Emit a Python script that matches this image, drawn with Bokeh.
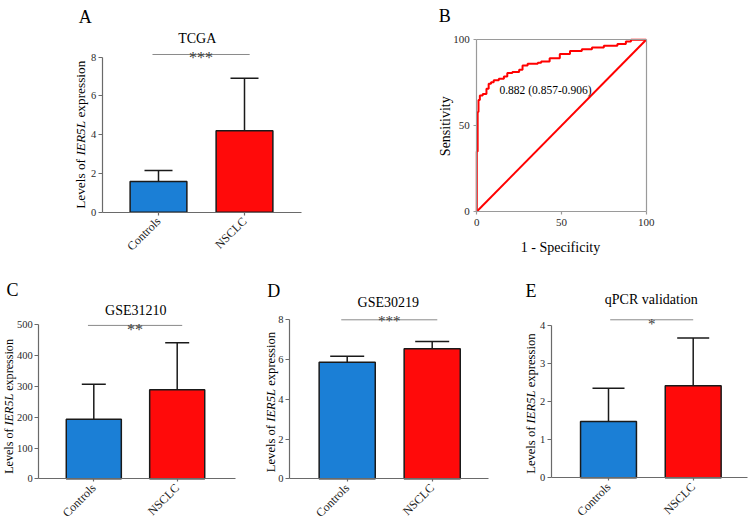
import math
from bokeh.plotting import figure
from bokeh.models import (Range1d, FixedTicker, Label, Whisker, TeeHead, ColumnDataSource,
                          LinearAxis)
from bokeh.layouts import row, column
from bokeh.embed import file_html
from bokeh.resources import INLINE
from bokeh.core.properties import value

FONT = "Liberation Serif"
AXIS = "#6a6a6a"
EDGE = "#1a1a1a"
BLUE = "#1b7fd6"
RED = "#ff0a0a"

# ---------------- data ----------------
categories = ["Controls", "NSCLC"]
bar_colors = [BLUE, RED]

tcga_mean = [1.58, 4.20]
tcga_sd = [0.57, 2.72]
gse31210_mean = [193, 289]
gse31210_sd = [114, 153]
gse30219_mean = [5.87, 6.54]
gse30219_sd = [0.29, 0.37]
qpcr_mean = [1.48, 2.42]
qpcr_sd = [0.87, 1.25]

roc_fpr = [0, 0, 0.5, 1, 1.8, 3.5, 5.7, 7, 8.4, 10, 13, 16, 18, 21, 25, 27, 30, 36, 38,
           43, 49, 55, 62, 68, 75, 83, 88, 91, 100]
roc_tpr = [0, 35, 58, 65, 67.5, 68.5, 71.5, 74.4, 75.3, 76.5, 77.3, 78.6, 80.6, 81.2, 82.5,
           85, 86, 86.6, 87.4, 89.3, 91.8, 93.5, 94.5, 95.5, 96.5, 97.5, 99, 100, 100]
roc_ref = [0, 100]
roc_auc_text = "0.882 (0.857-0.906)"
roc_ticks = [0, 50, 100]

# rotated y label pieces: text, style, advance in em up to the next piece (Times metrics)
ylabel_parts = [("Levels of", "normal", 3.999), ("IER5L", "italic", 2.861),
                ("expression", "normal", 4.277)]


def base_fig(box, x0px, ux, y0px, uy):
    """Figure whose frame fills the whole canvas; data x=0 at pixel x0px, y=0 at y0px."""
    fx0, fy0, fx1, fy1 = box
    xr = Range1d((fx0 - x0px) / ux, (fx1 - x0px) / ux)
    yr = Range1d((y0px - fy1) / uy, (y0px - fy0) / uy)
    p = figure(width=fx1 - fx0, height=fy1 - fy0, x_range=xr, y_range=yr,
               x_axis_type=None, y_axis_type=None, min_border=0,
               toolbar_location=None, output_backend="svg", title=None,
               background_fill_color="white", border_fill_color="white")
    p.grid.visible = False
    p.outline_line_color = None
    return p


def lab(p, box, X, Y, text, size, angle=0.0, align="left", baseline="alphabetic",
        style="normal", color="black"):
    p.add_layout(Label(x=X - box[0], y=box[3] - Y, x_units="screen", y_units="screen",
                       text=text, angle=angle, text_align=align, text_baseline=baseline,
                       text_font=FONT, text_font_size=f"{size}px", text_font_style=style,
                       text_color=color))


def make_axis(loc, ticks, bounds, tick_size, color=AXIS, tick_out=4, standoff=2):
    ax = LinearAxis(fixed_location=loc, ticker=FixedTicker(ticks=ticks), bounds=bounds)
    ax.axis_line_color = color
    ax.axis_line_width = 1.2
    ax.major_tick_line_color = color
    ax.major_tick_line_width = 1.2
    ax.major_tick_in = 0
    ax.major_tick_out = tick_out
    ax.minor_tick_line_color = None
    ax.major_label_text_font = FONT
    ax.major_label_text_color = "#2a2a2a"
    ax.major_label_text_font_size = f"{tick_size}px"
    ax.major_label_standoff = standoff
    return ax


def bar_panel(box, fl, fr, c0, c1, py_top, py0, ymax, ystep, mean, sd, cap,
              stars, star_size, sig_x, sig_y, star_y, title, title_xy, letter, letter_xy,
              ylab_x, ylab_y0, ylab_size):
    ux = c1 - c0
    uy = (py0 - py_top) / ymax
    p = base_fig(box, c0, ux, py0, uy)
    xl = (fl - c0) / ux
    xh = (fr - c0) / ux

    xs = list(range(len(categories)))
    src = ColumnDataSource(dict(x=xs, cat=categories, mean=mean,
                                upper=[m + s for m, s in zip(mean, sd)], color=bar_colors))
    p.vbar(x="x", top="mean", width=0.66, fill_color="color", line_color=EDGE,
           line_width=1.5, source=src)
    p.add_layout(Whisker(base="x", upper="upper", lower="mean", source=src, dimension="height",
                         upper_head=TeeHead(size=cap, line_color=EDGE, line_width=1.5),
                         lower_head=None, line_color=EDGE, line_width=1.5))

    xax = make_axis(0, xs, (xl, xh), 12, tick_out=3, standoff=4)
    xax.major_label_overrides = {i: c for i, c in zip(xs, categories)}
    xax.major_label_orientation = math.pi / 4
    xax.major_label_text_color = "#1a1a1a"
    p.add_layout(xax, "below")
    nt = int(round(ymax / ystep))
    yax = make_axis(xl, [ystep * i for i in range(nt + 1)], (0, ymax), 10.5)
    p.add_layout(yax, "left")

    # significance bar
    p.segment(x0=[sig_x[0]], y0=[sig_y], x1=[sig_x[1]], y1=[sig_y], line_color="#8a8a8a",
              line_width=1)
    p.text(x=[(sig_x[0] + sig_x[1]) / 2], y=[star_y], text=[stars], text_align="center",
           text_baseline="alphabetic", text_font=value(FONT),
           text_font_size=f"{star_size}px", text_color="#3a3a3a")

    lab(p, box, title_xy[0], title_xy[1], title, 14, align="center")
    lab(p, box, letter_xy[0], letter_xy[1], letter, 18)
    y = ylab_y0
    for txt, st, em in ylabel_parts:
        lab(p, box, ylab_x, y, txt, ylab_size, angle=math.pi / 2, baseline="middle", style=st)
        y -= em * ylab_size
    return p


pA = bar_panel((0, 0, 340, 262), 101.7, 300.7, 158, 244, 56.7, 211.7, 8, 2,
               tcga_mean, tcga_sd, 28, "***", 16, (-0.07, 1.06), 8.14, 7.98,
               "TCGA", (196.7, 37.7), "A", (78.3, 16.7), 80, 208.3, 13.3)

pC = bar_panel((0, 262, 245, 520), 38.3, 235, 93.3, 176.7, 324.3, 478.3, 500, 100,
               gse31210_mean, gse31210_sd, 24, "**", 16, (-0.07, 1.06), 498, 486,
               "GSE31210", (135.3, 310), "C", (6, 289), 8.8, 473.3, 12.1)

pD = bar_panel((245, 262, 490, 520), 289, 488, 346.7, 431.7, 319.3, 478.3, 8, 2,
               gse30219_mean, gse30219_sd, 34, "***", 15, (-0.07, 1.06), 8.0, 7.93,
               "GSE30219", (387.8, 302.3), "D", (266.7, 290), 270, 471.7, 12.6)

pE = bar_panel((490, 262, 752, 520), 550.7, 746.7, 608, 692.7, 325, 477.3, 4, 1,
               qpcr_mean, qpcr_sd, 32, "*", 15, (0.02, 1.0), 4.15, 4.05,
               "qPCR validation", (650.8, 299.3), "E", (525, 290), 530, 473.3, 12.6)

# ---------------- ROC panel ----------------
boxB = (340, 0, 752, 262)
uxB = (645.7 - 476.3) / 100
uyB = (211 - 39.3) / 100
pB = base_fig(boxB, 476.3, uxB, 211, uyB)
GR = "#9a9a9a"
bx = make_axis(0, roc_ticks, (0, 100), 11, color=GR, tick_out=3, standoff=4)
by = make_axis(0, roc_ticks, (0, 100), 11, color=GR, tick_out=3, standoff=4)
pB.add_layout(bx, "below")
pB.add_layout(by, "left")
for loc, side in ((100, "above"), (100, "right")):
    ax = make_axis(loc, [], (0, 100), 10, color=GR, tick_out=0)
    pB.add_layout(ax, side)
pB.line(x=roc_ref, y=roc_ref, line_color="#ff0000", line_width=2)
pB.step(x=roc_fpr, y=roc_tpr, mode="after", line_color="#ff0000", line_width=2)
pB.add_layout(Label(x=13.4, y=71, text=roc_auc_text, text_baseline="middle",
                    text_font=FONT, text_font_size="11.5px", text_color="black"))
lab(pB, boxB, 438.3, 15, "B", 18)
lab(pB, boxB, 445, 125.7, "Sensitivity", 14, angle=math.pi / 2, align="center",
    baseline="middle")
lab(pB, boxB, 560, 246.6, "1 - Specificity", 14, align="center")

layout = column(row(pA, pB), row(pC, pD, pE))
open("out.html", "w").write(file_html(layout, INLINE))
